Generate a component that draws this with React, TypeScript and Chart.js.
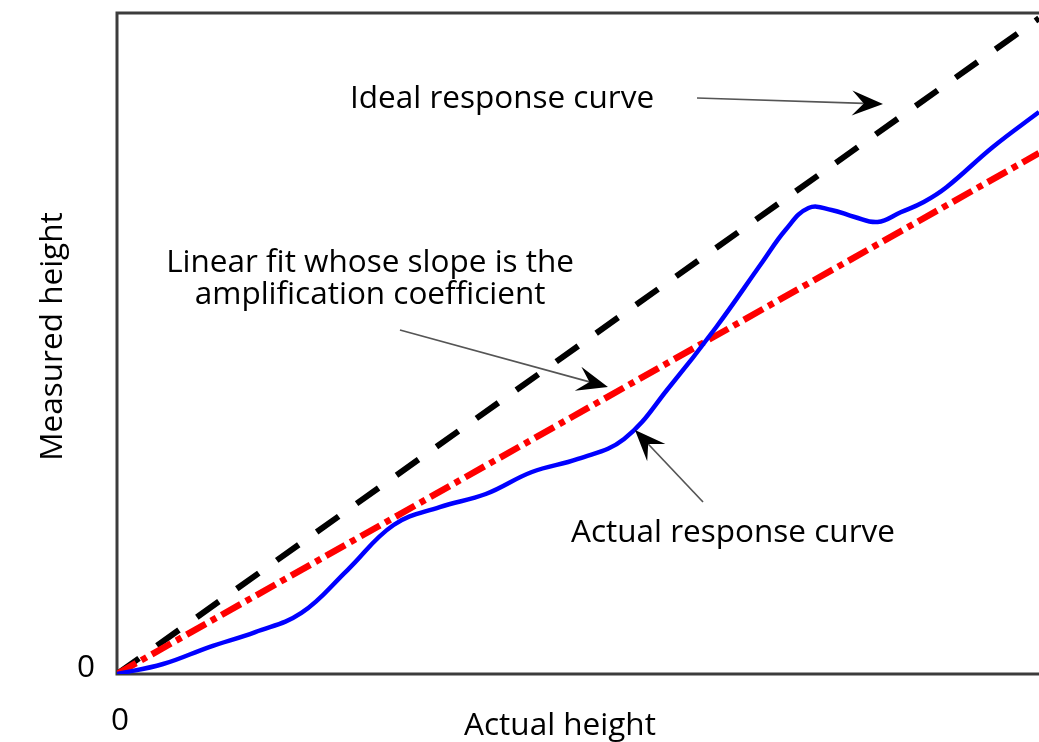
import React, { useEffect, useRef } from "react";
import { Chart, registerables } from "chart.js";

Chart.register(...registerables);

// ---- data ----
const xRange = [0, 10];
const yRange = [0, 10];

const idealX = [0, 10];
const idealY = [0, 9.92];

const fitX = [0, 10];
const fitY = [0, 7.88];

const actualX = [0, 0.5, 1.0, 1.5, 2.0, 2.5, 3.0, 3.5, 4.0, 4.5, 5.0, 5.5, 6.0, 6.5, 7.0, 7.25, 7.5, 7.75, 8.0, 8.25, 8.5, 8.75, 9.0, 9.5, 10];
const actualY = [0, 0.151, 0.408, 0.635, 0.923, 1.573, 2.254, 2.526, 2.723, 3.056, 3.253, 3.555, 4.357, 5.25, 6.233, 6.717, 7.05, 7.02, 6.914, 6.838, 6.985, 7.141, 7.368, 7.973, 8.502];

const xTickLabels = ["0"];
const yTickLabels = ["0"];
const xAxisTitle = "Actual height";
const yAxisTitle = "Measured height";

// annotation texts: lines, anchor (data coords, center x, first baseline y)
const noteTexts = [
  { lines: ["Ideal response curve"], x: 4.176, y: 8.57 },
  { lines: ["Linear fit whose slope is the", "amplification coefficient"], x: 2.745, y: 6.08 },
  { lines: ["Actual response curve"], x: 6.681, y: 1.996 },
];
// arrows: tail -> tip (data coords)
const arrowTailX = [6.291, 3.069, 6.356];
const arrowTailY = [8.714, 5.204, 2.602];
const arrowTipX = [8.308, 5.325, 5.618];
const arrowTipY = [8.623, 4.342, 3.691];

const FONT = '31.5px "Open Sans", sans-serif';

const toPoints = (xs: number[], ys: number[]) => xs.map((x, i) => ({ x, y: ys[i] }));

const framePlugin = {
  id: "frame",
  beforeDatasetsDraw(chart: any) {
    const { ctx, chartArea } = chart;
    const { left, top, right, bottom } = chartArea;
    ctx.save();
    ctx.strokeStyle = "#3c3c3c";
    ctx.lineWidth = 3;
    ctx.beginPath();
    ctx.moveTo(right + 5, top);
    ctx.lineTo(left, top);
    ctx.lineTo(left, bottom);
    ctx.lineTo(right + 5, bottom);
    ctx.stroke();
    ctx.restore();
  },
  afterDraw(chart: any) {
    const { ctx, chartArea, scales } = chart;
    const xs = scales.x;
    const ys = scales.y;
    ctx.save();
    ctx.fillStyle = "#000";
    ctx.font = FONT;
    ctx.textAlign = "center";
    ctx.textBaseline = "alphabetic";

    // tick labels
    ctx.fillText(xTickLabels[0], xs.getPixelForValue(0) + 3, chartArea.bottom + 56);
    ctx.fillText(yTickLabels[0], chartArea.left - 31, ys.getPixelForValue(0) + 3);

    // axis titles
    ctx.fillText(xAxisTitle, (chartArea.left + chartArea.right) / 2 - 18, chartArea.bottom + 61);
    ctx.save();
    ctx.translate(chartArea.left - 55, (chartArea.top + chartArea.bottom) / 2 - 7);
    ctx.rotate(-Math.PI / 2);
    ctx.fillText(yAxisTitle, 0, 0);
    ctx.restore();

    // notes
    noteTexts.forEach((n) => {
      const px = xs.getPixelForValue(n.x);
      const py = ys.getPixelForValue(n.y);
      n.lines.forEach((line, i) => ctx.fillText(line, px, py + i * 32));
    });

    // arrows
    for (let i = 0; i < arrowTailX.length; i++) {
      const tx = xs.getPixelForValue(arrowTailX[i]);
      const ty = ys.getPixelForValue(arrowTailY[i]);
      const hx = xs.getPixelForValue(arrowTipX[i]);
      const hy = ys.getPixelForValue(arrowTipY[i]);
      const len = Math.hypot(hx - tx, hy - ty);
      const dx = (hx - tx) / len;
      const dy = (hy - ty) / len;
      const nx = -dy;
      const ny = dx;
      const L = 31;
      const W = 12.5;
      const notch = 0.62 * L;
      ctx.strokeStyle = "#555";
      ctx.lineWidth = 1.7;
      ctx.beginPath();
      ctx.moveTo(tx, ty);
      ctx.lineTo(hx - dx * notch, hy - dy * notch);
      ctx.stroke();
      ctx.fillStyle = "#000";
      ctx.beginPath();
      ctx.moveTo(hx, hy);
      ctx.lineTo(hx - dx * L + nx * W, hy - dy * L + ny * W);
      ctx.lineTo(hx - dx * notch, hy - dy * notch);
      ctx.lineTo(hx - dx * L - nx * W, hy - dy * L - ny * W);
      ctx.closePath();
      ctx.fill();
    }
    ctx.restore();
  },
};

export default function App() {
  const ref = useRef<HTMLCanvasElement | null>(null);

  useEffect(() => {
    if (!ref.current) return;
    const chart = new Chart(ref.current, {
      type: "line",
      data: {
        datasets: [
          {
            label: "Actual response curve",
            data: toPoints(actualX, actualY),
            borderColor: "#0000ff",
            borderWidth: 4.5,
            pointRadius: 0,
            tension: 0.4,
            fill: false,
            order: 0,
          },
          {
            label: "Linear fit",
            data: toPoints(fitX, fitY),
            borderColor: "#ff0000",
            borderWidth: 6.5,
            borderDash: [22, 6, 6, 6],
            pointRadius: 0,
            fill: false,
            order: 1,
          },
          {
            label: "Ideal response curve",
            data: toPoints(idealX, idealY),
            borderColor: "#000000",
            borderWidth: 6,
            borderDash: [27, 22],
            pointRadius: 0,
            fill: false,
            order: 2,
          },
        ],
      },
      options: {
        responsive: false,
        animation: false,
        devicePixelRatio: 1,
        layout: { padding: { left: 117, top: 13, right: 0, bottom: 68 } },
        plugins: {
          legend: { display: false },
          tooltip: { enabled: false },
          title: { display: false },
        },
        scales: {
          x: { type: "linear", min: xRange[0], max: xRange[1], display: false },
          y: { type: "linear", min: yRange[0], max: yRange[1], display: false },
        },
      },
      plugins: [framePlugin],
    });
    return () => chart.destroy();
  }, []);

  return (
    <div style={{ position: "absolute", left: 0, top: 0, width: 1039, height: 742, background: "#fff" }}>
      <canvas ref={ref} width={1039} height={742} style={{ display: "block" }} />
    </div>
  );
}
